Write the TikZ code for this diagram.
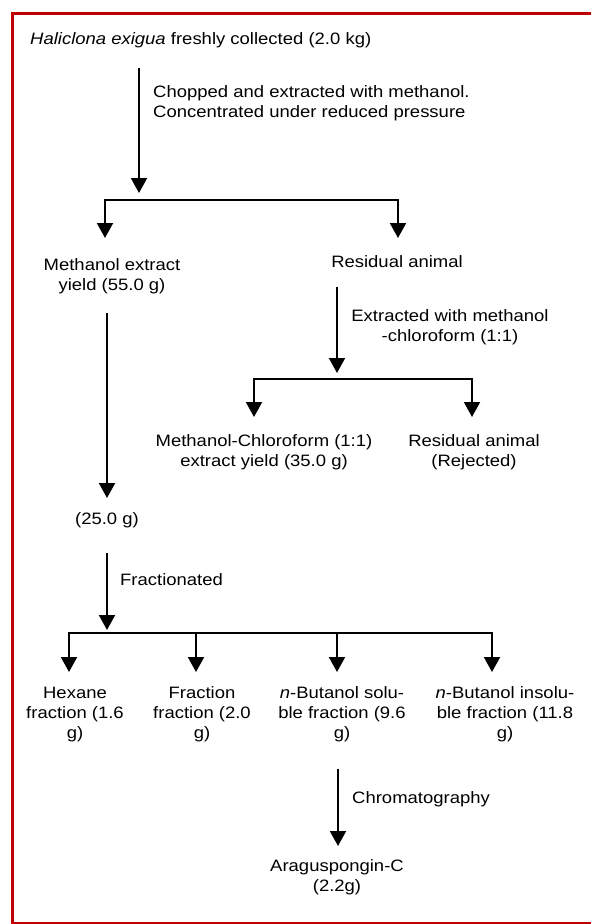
\documentclass[tikz,border=0pt]{standalone}
\usepackage{fontspec}
\setmainfont{Liberation Sans}[FakeStretch=1.12]
\usetikzlibrary{arrows.meta}
\definecolor{framered}{RGB}{192,0,0}

\begin{document}
\begin{tikzpicture}[x = 1pt, y = -1pt,
        arr/.style = {line width = 2pt, -{Triangle[width = 16pt, length = 15pt]}},
        fork/.style = {line width = 2pt, {Triangle[width = 16pt, length = 15pt]}-{Triangle[width = 16pt, length = 15pt]}},
        txt/.style = {inner sep = 0pt, align = center, anchor = base, font = \fontsize{16.5}{20}\selectfont}]
        \useasboundingbox (0,0) rectangle (591,924);
        \clip (0,0) rectangle (591,924);
        \draw[framered, line width = 3pt] (12.5,13.5) rectangle (600,923.5);

        \node[txt, anchor = base west] (src) at (30,44.5) {\textit{Haliclona exigua} freshly collected (2.0 kg)};
        \node[txt, anchor = base west, align = left] (chop) at (153,117) {Chopped and extracted with methanol.\\Concentrated under reduced pressure};
        \node[txt] (meoh) at (112,290.7) {Methanol extract\\yield (55.0 g)};
        \node[txt] (res) at (397,267.5) {Residual animal};
        \node[txt] (mcstep) at (450,341.5) {Extracted with methanol\\-chloroform (1:1)};
        \node[txt] (mcext) at (264,466) {Methanol-Chloroform (1:1)\\extract yield (35.0 g)};
        \node[txt] (rej) at (474,466) {Residual animal\\(Rejected)};
        \node[txt] (part) at (107,524.5) {(25.0 g)};
        \node[txt, anchor = base west] (fracstep) at (120,585.5) {Fractionated};
        \node[txt] (hex) at (75,738) {Hexane\\fraction (1.6\\g)};
        \node[txt] (fra) at (202,738) {Fraction\\fraction (2.0\\g)};
        \node[txt] (sol) at (342,738) {\textit{n}-Butanol solu-\\ble fraction (9.6\\g)};
        \node[txt] (insol) at (505,738) {\textit{n}-Butanol insolu-\\ble fraction (11.8\\g)};
        \node[txt, anchor = base west] (chrom) at (352,803) {Chromatography};
        \node[txt] (ara) at (337,891) {Araguspongin-C\\(2.2g)};

        % first extraction
        \coordinate (s1) at (139,68);
        \coordinate (e1) at (139,193);
        \coordinate (j1l) at (105,200);
        \coordinate (j1r) at (398,200);
        \coordinate (t1l) at (105,238);
        \coordinate (t1r) at (398,238);
        \draw[arr] (s1) -- (e1);
        \draw[fork] (t1l) -- (j1l) -- (j1r) -- (t1r);

        % residual animal
        \coordinate (s2) at (337,287);
        \coordinate (e2) at (337,373);
        \coordinate (j2l) at (254,379);
        \coordinate (j2r) at (472,379);
        \coordinate (t2l) at (254,417);
        \coordinate (t2r) at (472,417);
        \draw[arr] (s2) -- (e2);
        \draw[fork] (t2l) -- (j2l) -- (j2r) -- (t2r);

        % methanol extract
        \coordinate (s3) at (107,313);
        \coordinate (e3) at (107,498);
        \draw[arr] (s3) -- (e3);

        % fractions
        \coordinate (s4) at (107,553);
        \coordinate (e4) at (107,630);
        \coordinate (j4a) at (69,633);
        \coordinate (j4b) at (196,633);
        \coordinate (j4c) at (337,633);
        \coordinate (j4d) at (492,633);
        \coordinate (t4a) at (69,672);
        \coordinate (t4b) at (196,672);
        \coordinate (t4c) at (337,672);
        \coordinate (t4d) at (492,672);
        \draw[arr] (s4) -- (e4);
        \draw[fork] (t4a) -- (j4a) -- (j4d) -- (t4d);
        \draw[arr] (j4b) -- (t4b);
        \draw[arr] (j4c) -- (t4c);

        % chromatography
        \coordinate (s5) at (338,769);
        \coordinate (e5) at (338,846);
        \draw[arr] (s5) -- (e5);
    \end{tikzpicture}
\end{document}
